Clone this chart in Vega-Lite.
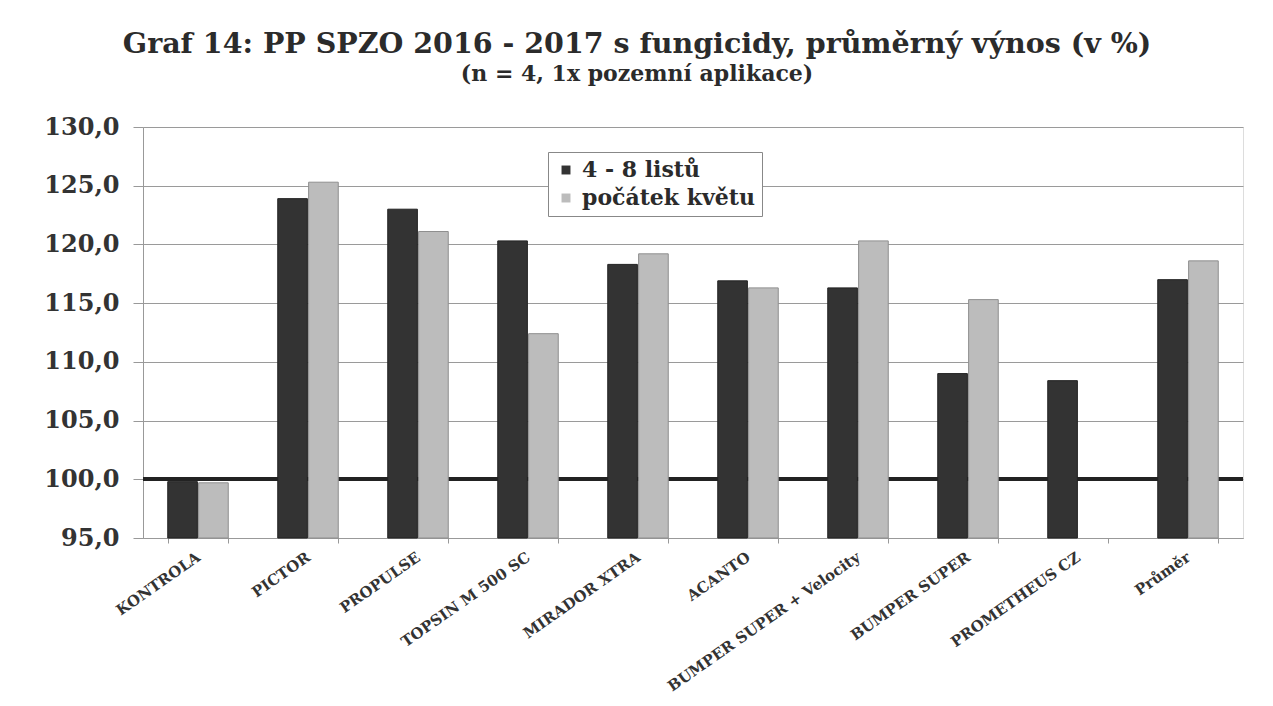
{
  "$schema": "https://vega.github.io/schema/vega-lite/v6.json",
  "autosize": "none",
  "padding": {"left": 143, "top": 127, "right": 30, "bottom": 168},
  "width": 1100,
  "height": 411,
  "background": "white",
  "title": {
    "text": "Graf 14: PP SPZO 2016 - 2017 s fungicidy, průměrný výnos (v %)",
    "subtitle": "(n = 4, 1x pozemní aplikace)",
    "anchor": "middle",
    "frame": "group",
    "dx": -56,
    "offset": 30,
    "font": "DejaVu Serif",
    "fontSize": 28.5,
    "fontWeight": "bold",
    "color": "#2b2b2b",
    "subtitleFont": "DejaVu Serif",
    "subtitleFontSize": 22,
    "subtitleFontWeight": "bold",
    "subtitleColor": "#2b2b2b",
    "subtitlePadding": 6
  },
  "data": {
    "values": [
      {"product": "KONTROLA", "series": "4 - 8 listů", "value": 99.8},
      {"product": "KONTROLA", "series": "počátek květu", "value": 99.7},
      {"product": "PICTOR", "series": "4 - 8 listů", "value": 123.9},
      {"product": "PICTOR", "series": "počátek květu", "value": 125.3},
      {"product": "PROPULSE", "series": "4 - 8 listů", "value": 123.0},
      {"product": "PROPULSE", "series": "počátek květu", "value": 121.1},
      {"product": "TOPSIN M 500 SC", "series": "4 - 8 listů", "value": 120.3},
      {"product": "TOPSIN M 500 SC", "series": "počátek květu", "value": 112.4},
      {"product": "MIRADOR XTRA", "series": "4 - 8 listů", "value": 118.3},
      {"product": "MIRADOR XTRA", "series": "počátek květu", "value": 119.2},
      {"product": "ACANTO", "series": "4 - 8 listů", "value": 116.9},
      {"product": "ACANTO", "series": "počátek květu", "value": 116.3},
      {"product": "BUMPER SUPER + Velocity", "series": "4 - 8 listů", "value": 116.3},
      {"product": "BUMPER SUPER + Velocity", "series": "počátek květu", "value": 120.3},
      {"product": "BUMPER SUPER", "series": "4 - 8 listů", "value": 109.0},
      {"product": "BUMPER SUPER", "series": "počátek květu", "value": 115.3},
      {"product": "PROMETHEUS CZ", "series": "4 - 8 listů", "value": 108.4},
      {"product": "Průměr", "series": "4 - 8 listů", "value": 117.0},
      {"product": "Průměr", "series": "počátek květu", "value": 118.6}
    ]
  },
  "encoding": {
    "x": {
      "field": "product",
      "type": "nominal",
      "sort": null,
      "scale": {"paddingInner": 0.45, "paddingOuter": 0.225},
      "axis": {
        "title": null,
        "labelAngle": -35,
        "labelAlign": "right",
        "labelBaseline": "middle",
        "labelFont": "DejaVu Serif",
        "labelFontSize": 15,
        "labelFontWeight": "bold",
        "labelColor": "#333333",
        "labelLimit": 400,
        "labelPadding": 12,
        "tickBand": "extent",
        "tickSize": 5,
        "tickColor": "#999999",
        "domainColor": "#999999",
        "grid": false
      }
    }
  },
  "layer": [
    {
      "mark": {"type": "rule", "color": "#222222", "strokeWidth": 3.5},
      "encoding": {
        "x": null,
        "y": {"datum": 100, "type": "quantitative"}
      }
    },
    {
      "mark": {"type": "bar", "strokeWidth": 1},
      "encoding": {
        "xOffset": {
          "field": "series",
          "type": "nominal",
          "scale": {"domain": ["4 - 8 listů", "počátek květu"], "paddingInner": 0.04}
        },
        "y": {
          "field": "value",
          "type": "quantitative",
          "scale": {"domain": [95, 130], "zero": false, "nice": false},
          "axis": {
            "title": null,
            "values": [95, 100, 105, 110, 115, 120, 125, 130],
            "labelExpr": "replace(format(datum.value, '.1f'), '.', ',')",
            "labelFont": "DejaVu Serif",
            "labelFontSize": 24,
            "labelFontWeight": "bold",
            "labelColor": "#333333",
            "labelPadding": 14,
            "tickSize": 10,
            "tickColor": "#999999",
            "domainColor": "#999999",
            "grid": true,
            "gridColor": "#9a9a9a",
            "gridWidth": 1
          }
        },
        "y2": {"datum": 95},
        "color": {
          "field": "series",
          "type": "nominal",
          "scale": {"domain": ["4 - 8 listů", "počátek květu"], "range": ["#333333", "#bcbcbc"]},
          "legend": {
            "title": null,
            "orient": "none",
            "legendX": 405,
            "legendY": 25,
            "fillColor": "white",
            "strokeColor": "#888888",
            "padding": 7,
            "symbolType": "square",
            "symbolSize": 80,
            "symbolStrokeWidth": 0,
            "labelFont": "DejaVu Serif",
            "labelFontSize": 22,
            "labelFontWeight": "bold",
            "labelColor": "#2b2b2b",
            "labelLimit": 400,
            "rowPadding": 6,
            "labelOffset": 5
          }
        },
        "stroke": {
          "field": "series",
          "type": "nominal",
          "scale": {"domain": ["4 - 8 listů", "počátek květu"], "range": ["#222222", "#8f8f8f"]},
          "legend": null
        }
      }
    }
  ]
}
